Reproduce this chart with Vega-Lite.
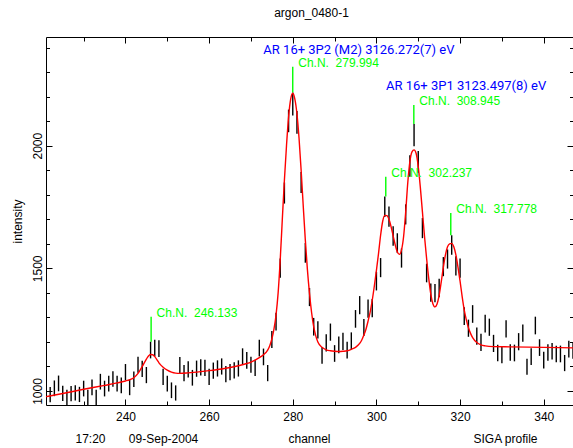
{
  "$schema": "https://vega.github.io/schema/vega-lite/v6.json",
  "width": 527,
  "height": 368,
  "autosize": {"type": "none"},
  "padding": {"left": 46, "top": 37, "right": 0, "bottom": 43},
  "background": "white",
  "config": {
    "view": {"stroke": "black", "strokeWidth": 1},
    "axis": {
      "domain": false, "grid": false, "tickColor": "black", "tickWidth": 1,
      "labelFont": "Liberation Sans", "labelFontSize": 12, "labelColor": "black",
      "titleFont": "Liberation Sans", "titleFontSize": 12, "titleFontWeight": "normal", "titleColor": "black"
    }
  },
  "datasets": {
    "pts": [
      {"ch":222,"lo":954,"hi":1016},{"ch":223,"lo":979,"hi":1043},{"ch":224,"lo":999,"hi":1063},{"ch":225,"lo":959,"hi":1021},
      {"ch":226,"lo":943,"hi":1005},{"ch":227,"lo":958,"hi":1020},{"ch":228,"lo":961,"hi":1023},{"ch":229,"lo":955,"hi":1017},
      {"ch":230,"lo":978,"hi":1042},{"ch":231,"lo":943,"hi":1005},{"ch":232,"lo":983,"hi":1047},{"ch":233,"lo":943,"hi":1005},
      {"ch":234,"lo":1006,"hi":1070},{"ch":235,"lo":978,"hi":1042},{"ch":236,"lo":998,"hi":1062},{"ch":237,"lo":1017,"hi":1081},
      {"ch":238,"lo":998,"hi":1062},{"ch":239,"lo":991,"hi":1055},{"ch":240,"lo":1044,"hi":1110},{"ch":241,"lo":983,"hi":1047},
      {"ch":242,"lo":1016,"hi":1080},{"ch":243,"lo":1074,"hi":1140},{"ch":244,"lo":1057,"hi":1123},{"ch":245,"lo":1032,"hi":1098},
      {"ch":246,"lo":1133,"hi":1201},{"ch":247,"lo":1141,"hi":1209},{"ch":248,"lo":1139,"hi":1207},{"ch":249,"lo":1025,"hi":1091},
      {"ch":250,"lo":998,"hi":1062},{"ch":251,"lo":971,"hi":1035},{"ch":252,"lo":961,"hi":1023},{"ch":253,"lo":1073,"hi":1139},
      {"ch":254,"lo":1040,"hi":1106},{"ch":255,"lo":1055,"hi":1121},{"ch":256,"lo":1022,"hi":1086},{"ch":257,"lo":1058,"hi":1124},
      {"ch":258,"lo":1063,"hi":1129},{"ch":259,"lo":1061,"hi":1127},{"ch":260,"lo":1025,"hi":1091},{"ch":261,"lo":1050,"hi":1116},
      {"ch":262,"lo":1059,"hi":1125},{"ch":263,"lo":1067,"hi":1133},{"ch":264,"lo":1036,"hi":1102},{"ch":265,"lo":1044,"hi":1110},
      {"ch":266,"lo":1051,"hi":1117},{"ch":267,"lo":1059,"hi":1125},{"ch":268,"lo":1106,"hi":1174},{"ch":269,"lo":1091,"hi":1159},
      {"ch":270,"lo":1074,"hi":1140},{"ch":271,"lo":1061,"hi":1127},{"ch":272,"lo":1141,"hi":1209},{"ch":273,"lo":1105,"hi":1173},
      {"ch":274,"lo":1040,"hi":1106},{"ch":275,"lo":1175,"hi":1245},{"ch":276,"lo":1247,"hi":1319},{"ch":277,"lo":1462,"hi":1540},
      {"ch":278,"lo":1764,"hi":1850},{"ch":279,"lo":2055,"hi":2147},{"ch":280,"lo":2123,"hi":2217},{"ch":281,"lo":2049,"hi":2141},
      {"ch":282,"lo":1807,"hi":1893},{"ch":283,"lo":1523,"hi":1603},{"ch":284,"lo":1346,"hi":1420},{"ch":285,"lo":1226,"hi":1298},
      {"ch":286,"lo":1214,"hi":1284},{"ch":287,"lo":1111,"hi":1179},{"ch":288,"lo":1161,"hi":1231},{"ch":289,"lo":1205,"hi":1275},
      {"ch":290,"lo":1119,"hi":1187},{"ch":291,"lo":1154,"hi":1222},{"ch":292,"lo":1167,"hi":1237},{"ch":293,"lo":1133,"hi":1201},
      {"ch":294,"lo":1169,"hi":1239},{"ch":295,"lo":1258,"hi":1330},{"ch":296,"lo":1313,"hi":1387},{"ch":297,"lo":1224,"hi":1294},
      {"ch":298,"lo":1299,"hi":1373},{"ch":299,"lo":1301,"hi":1375},{"ch":300,"lo":1410,"hi":1486},{"ch":301,"lo":1464,"hi":1542},
      {"ch":302,"lo":1709,"hi":1793},{"ch":303,"lo":1670,"hi":1752},{"ch":304,"lo":1592,"hi":1672},{"ch":305,"lo":1563,"hi":1643},
      {"ch":306,"lo":1503,"hi":1581},{"ch":307,"lo":1679,"hi":1761},{"ch":308,"lo":1873,"hi":1961},{"ch":309,"lo":1998,"hi":2088},
      {"ch":310,"lo":1890,"hi":1978},{"ch":311,"lo":1623,"hi":1705},{"ch":312,"lo":1443,"hi":1519},{"ch":313,"lo":1364,"hi":1438},
      {"ch":314,"lo":1362,"hi":1436},{"ch":315,"lo":1382,"hi":1458},{"ch":316,"lo":1468,"hi":1546},{"ch":317,"lo":1499,"hi":1577},
      {"ch":318,"lo":1555,"hi":1635},{"ch":319,"lo":1471,"hi":1549},{"ch":320,"lo":1462,"hi":1540},{"ch":321,"lo":1269,"hi":1341},
      {"ch":322,"lo":1221,"hi":1291},{"ch":323,"lo":1278,"hi":1350},{"ch":324,"lo":1189,"hi":1259},{"ch":325,"lo":1163,"hi":1233},
      {"ch":326,"lo":1239,"hi":1311},{"ch":327,"lo":1225,"hi":1295},{"ch":328,"lo":1159,"hi":1229},{"ch":329,"lo":1121,"hi":1189},
      {"ch":330,"lo":1113,"hi":1181},{"ch":331,"lo":1218,"hi":1288},{"ch":332,"lo":1123,"hi":1191},{"ch":333,"lo":1121,"hi":1189},
      {"ch":334,"lo":1166,"hi":1236},{"ch":335,"lo":1201,"hi":1271},{"ch":336,"lo":1066,"hi":1132},{"ch":337,"lo":1106,"hi":1174},
      {"ch":338,"lo":1231,"hi":1303},{"ch":339,"lo":1143,"hi":1211},{"ch":340,"lo":1092,"hi":1160},{"ch":341,"lo":1123,"hi":1191},
      {"ch":342,"lo":1128,"hi":1196},{"ch":343,"lo":1117,"hi":1185},{"ch":344,"lo":1117,"hi":1185},{"ch":345,"lo":1081,"hi":1147},
      {"ch":346,"lo":1137,"hi":1205},{"ch":347,"lo":1132,"hi":1200}
    ],
    "fit": [
      {"ch":221,"f":977},{"ch":225,"f":990},{"ch":230,"f":1007},{"ch":235,"f":1023},{"ch":238,"f":1033},{"ch":240,"f":1041},
      {"ch":241,"f":1046},{"ch":242,"f":1054},{"ch":243,"f":1072},{"ch":244,"f":1100},{"ch":245,"f":1130},{"ch":245.5,"f":1143},
      {"ch":246,"f":1149},{"ch":246.5,"f":1148},{"ch":247,"f":1140},{"ch":247.5,"f":1128},{"ch":248,"f":1115},{"ch":249,"f":1097},
      {"ch":250,"f":1085},{"ch":251,"f":1077},{"ch":252,"f":1073},{"ch":253,"f":1072},{"ch":255,"f":1074},{"ch":258,"f":1079},
      {"ch":260,"f":1083},{"ch":263,"f":1090},{"ch":265,"f":1096},{"ch":267,"f":1103},{"ch":269,"f":1112},{"ch":270,"f":1118},
      {"ch":271,"f":1126},{"ch":272,"f":1136},{"ch":273,"f":1148},{"ch":274,"f":1167},{"ch":274.5,"f":1185},{"ch":275,"f":1212},
      {"ch":275.5,"f":1252},{"ch":276,"f":1310},{"ch":276.5,"f":1400},{"ch":277,"f":1535},{"ch":277.5,"f":1700},{"ch":278,"f":1860},
      {"ch":278.5,"f":2000},{"ch":279,"f":2118},{"ch":279.5,"f":2190},{"ch":280,"f":2214},{"ch":280.5,"f":2190},{"ch":281,"f":2130},
      {"ch":281.5,"f":2030},{"ch":282,"f":1900},{"ch":282.5,"f":1755},{"ch":283,"f":1616},{"ch":283.5,"f":1495},{"ch":284,"f":1398},
      {"ch":284.5,"f":1320},{"ch":285,"f":1262},{"ch":285.5,"f":1225},{"ch":286,"f":1200},{"ch":287,"f":1178},{"ch":288,"f":1168},
      {"ch":289,"f":1164},{"ch":290,"f":1162},{"ch":291,"f":1161},{"ch":292,"f":1162},{"ch":293,"f":1164},{"ch":294,"f":1170},
      {"ch":295,"f":1178},{"ch":296,"f":1194},{"ch":296.5,"f":1208},{"ch":297,"f":1228},{"ch":297.5,"f":1252},{"ch":298,"f":1285},
      {"ch":298.5,"f":1322},{"ch":299,"f":1370},{"ch":299.5,"f":1428},{"ch":300,"f":1492},{"ch":300.5,"f":1560},{"ch":301,"f":1635},
      {"ch":301.5,"f":1692},{"ch":302,"f":1716},{"ch":302.5,"f":1715},{"ch":303,"f":1700},{"ch":303.5,"f":1670},{"ch":304,"f":1632},
      {"ch":304.5,"f":1595},{"ch":305,"f":1567},{"ch":305.5,"f":1557},{"ch":306,"f":1575},{"ch":306.5,"f":1630},{"ch":307,"f":1730},
      {"ch":307.5,"f":1850},{"ch":308,"f":1935},{"ch":308.5,"f":1975},{"ch":309,"f":1983},{"ch":309.5,"f":1968},{"ch":310,"f":1915},
      {"ch":310.5,"f":1830},{"ch":311,"f":1730},{"ch":311.5,"f":1630},{"ch":312,"f":1540},{"ch":312.5,"f":1460},{"ch":313,"f":1395},
      {"ch":313.5,"f":1356},{"ch":314,"f":1343},{"ch":314.5,"f":1355},{"ch":315,"f":1390},{"ch":315.5,"f":1445},{"ch":316,"f":1505},
      {"ch":316.5,"f":1555},{"ch":317,"f":1588},{"ch":317.5,"f":1600},{"ch":318,"f":1602},{"ch":318.5,"f":1588},{"ch":319,"f":1555},
      {"ch":319.5,"f":1505},{"ch":320,"f":1448},{"ch":320.5,"f":1385},{"ch":321,"f":1330},{"ch":321.5,"f":1290},{"ch":322,"f":1258},
      {"ch":322.5,"f":1235},{"ch":323,"f":1218},{"ch":324,"f":1198},{"ch":325,"f":1188},{"ch":326,"f":1184},{"ch":328,"f":1181},
      {"ch":332,"f":1180},{"ch":340,"f":1178},{"ch":347,"f":1176}
    ],
    "peaks": [
      {"ch":246.133,"lo":1201,"top":1303,"label":"Ch.N.\u00a0\u00a0246.133"},
      {"ch":279.994,"lo":2217,"top":2322,"label":"Ch.N.\u00a0\u00a0279.994"},
      {"ch":302.237,"lo":1793,"top":1873,"label":"Ch.N.\u00a0\u00a0302.237"},
      {"ch":308.945,"lo":2088,"top":2166,"label":"Ch.N.\u00a0\u00a0308.945"},
      {"ch":317.778,"lo":1635,"top":1726,"label":"Ch.N.\u00a0\u00a0317.778"}
    ],
    "notes": [
      {"ch":272.97,"v":2390,"label":"AR 16+ 3P2 (M2) 3126.272(7) eV"},
      {"ch":302.3,"v":2242,"label":"AR 16+ 3P1 3123.497(8) eV"}
    ]
  },
  "resolve": {"axis": {"x": "independent", "y": "independent"}},
  "layer": [
    {
      "data": {"name": "pts"},
      "mark": {"type": "rule", "color": "black", "strokeWidth": 1.4},
      "encoding": {
        "x": {"field": "ch", "type": "quantitative", "scale": {"domain": [221, 347], "nice": false, "zero": false},
              "axis": {"orient": "bottom", "values": [240, 260, 280, 300, 320, 340], "tickSize": -6, "labelPadding": 12.5, "format": "d",
                       "title": "channel", "titleX": 263, "titleY": 33, "titleAlign": "center", "titleBaseline": "middle"}},
        "y": {"field": "lo", "type": "quantitative", "scale": {"domain": [943, 2443], "nice": false, "zero": false},
              "axis": {"orient": "left", "values": [1000, 1500, 2000], "tickSize": -6, "labelPadding": 8, "format": "d",
                       "labelAngle": 270, "labelAlign": "center", "labelBaseline": "bottom",
                       "title": "intensity", "titleX": -29, "titleY": 184, "titleAngle": 270, "titleAlign": "center", "titleBaseline": "middle"}},
        "y2": {"field": "hi"}
      }
    },
    {
      "data": {"name": "peaks"},
      "mark": {"type": "rule", "color": "#00ff00", "strokeWidth": 1.4},
      "encoding": {
        "x": {"field": "ch", "type": "quantitative", "scale": {"domain": [221, 347], "nice": false, "zero": false},
              "axis": {"orient": "top", "values": [240, 260, 280, 300, 320, 340], "tickSize": -6, "labels": false,
                       "title": "argon_0480-1", "titleX": 265, "titleY": -25, "titleAlign": "center", "titleBaseline": "middle"}},
        "y": {"field": "lo", "type": "quantitative", "scale": {"domain": [943, 2443], "nice": false, "zero": false},
              "axis": {"orient": "right", "values": [1000, 1500, 2000], "tickSize": -6, "labels": false, "title": null}},
        "y2": {"field": "top"}
      }
    },
    {
      "data": {"name": "fit"},
      "mark": {"type": "line", "color": "#ff0000", "strokeWidth": 1.4, "interpolate": "monotone"},
      "encoding": {
        "x": {"field": "ch", "type": "quantitative", "scale": {"domain": [221, 347], "nice": false, "zero": false},
              "axis": {"orient": "bottom", "values": [230, 250, 270, 290, 310, 330], "tickSize": -4, "labels": false,
                       "title": "SIGA profile", "titleX": 459, "titleY": 33, "titleAlign": "center", "titleBaseline": "middle"}},
        "y": {"field": "f", "type": "quantitative", "scale": {"domain": [943, 2443], "nice": false, "zero": false},
              "axis": {"orient": "left", "values": [1100, 1200, 1300, 1400, 1600, 1700, 1800, 1900, 2100, 2200, 2300, 2400], "tickSize": -3.5, "labels": false, "title": null}}
      }
    },
    {
      "data": {"name": "peaks"},
      "mark": {"type": "text", "color": "#00ff00", "font": "Liberation Sans", "fontSize": 12, "align": "left", "baseline": "middle", "dx": 5.5, "dy": -4},
      "encoding": {
        "x": {"field": "ch", "type": "quantitative", "scale": {"domain": [221, 347], "nice": false, "zero": false},
              "axis": {"orient": "top", "values": [230, 250, 270, 290, 310, 330], "tickSize": -4, "labels": false, "title": null}},
        "y": {"field": "top", "type": "quantitative", "scale": {"domain": [943, 2443], "nice": false, "zero": false},
              "axis": {"orient": "right", "values": [1100, 1200, 1300, 1400, 1600, 1700, 1800, 1900, 2100, 2200, 2300, 2400], "tickSize": -3.5, "labels": false, "title": null}},
        "text": {"field": "label"}
      }
    },
    {
      "data": {"name": "notes"},
      "mark": {"type": "text", "color": "#0000ff", "font": "Roboto", "fontSize": 13, "align": "left", "baseline": "middle"},
      "encoding": {
        "x": {"field": "ch", "type": "quantitative", "scale": {"domain": [221, 347], "nice": false, "zero": false},
              "axis": {"orient": "bottom", "ticks": false, "labels": false,
                       "title": "17:20\u00a0\u00a0\u00a0\u00a0\u00a0\u00a0\u00a009-Sep-2004", "titleX": 29, "titleY": 33, "titleAlign": "left", "titleBaseline": "middle"}},
        "y": {"field": "v", "type": "quantitative", "scale": {"domain": [943, 2443], "nice": false, "zero": false}, "axis": null},
        "text": {"field": "label"}
      }
    }
  ]
}
